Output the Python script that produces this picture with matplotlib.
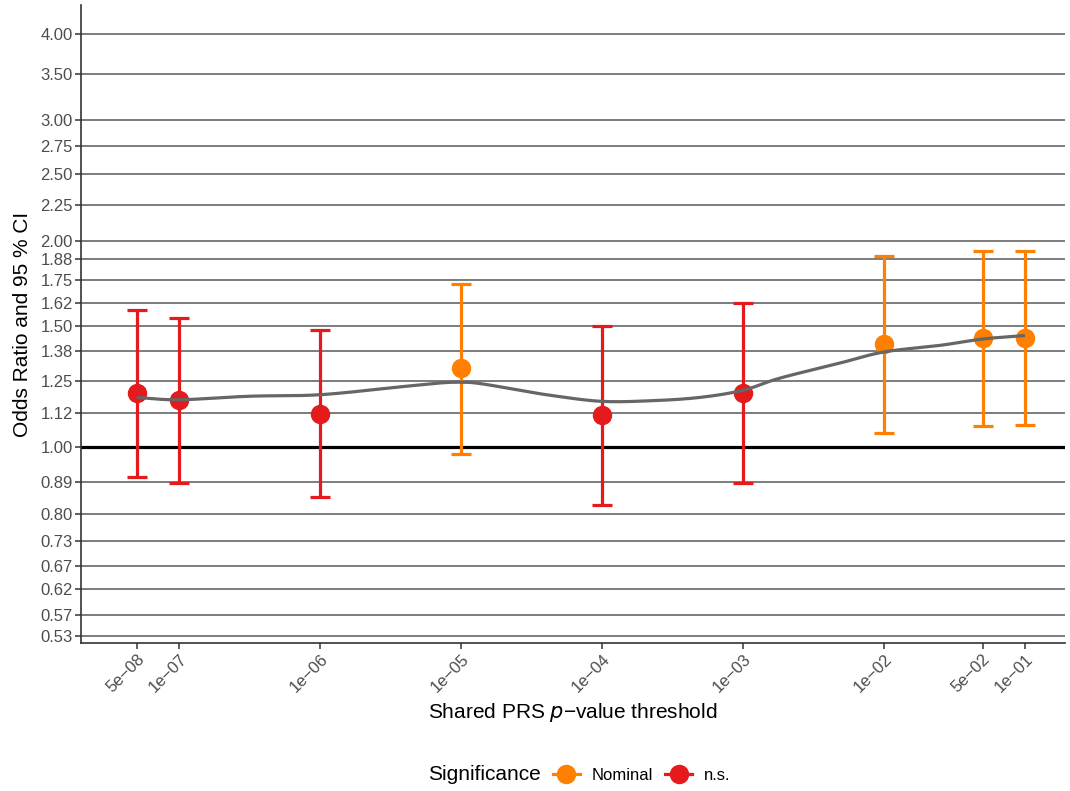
import numpy as np
import matplotlib.pyplot as plt
from matplotlib.lines import Line2D
from matplotlib.ticker import FixedLocator, NullLocator

plt.rcParams['font.family'] = ['Liberation Sans', 'DejaVu Sans']

# PRS p-value thresholds and their odds ratios with 95% CI
thresholds = [5e-08, 1e-07, 1e-06, 1e-05, 1e-04, 1e-03, 1e-02, 5e-02, 1e-01]
tick_labels = ["5e\u221208", "1e\u221207", "1e\u221206", "1e\u221205", "1e\u221204",
               "1e\u221203", "1e\u221202", "5e\u221202", "1e\u221201"]
odds_ratio = [1.198, 1.170, 1.119, 1.303, 1.113, 1.198, 1.415, 1.444, 1.440]
ci_lower = [0.905, 0.886, 0.845, 0.977, 0.823, 0.886, 1.050, 1.073, 1.076]
ci_upper = [1.582, 1.542, 1.480, 1.726, 1.500, 1.620, 1.902, 1.930, 1.928]
significance = ["n.s.", "n.s.", "n.s.", "Nominal", "n.s.", "n.s.", "Nominal", "Nominal", "Nominal"]

# smoothed trend through the estimates (log10 threshold, OR)
smooth_log10p = [-7.30, -7.0, -6.5, -6.0, -5.43, -5.15, -5.0, -4.87, -4.58, -4.37,
                 -4.01, -3.66, -3.31, -3.0, -2.74, -2.31, -2.0, -1.60, -1.30, -1.0]
smooth_or = [1.181, 1.172, 1.186, 1.192, 1.224, 1.240, 1.243, 1.238, 1.210, 1.190,
             1.166, 1.168, 1.181, 1.210, 1.260, 1.326, 1.376, 1.407, 1.437, 1.454]

y_ticks = [0.53, 0.57, 0.62, 0.67, 0.73, 0.80, 0.89, 1.00, 1.12, 1.25, 1.38, 1.50,
           1.62, 1.75, 1.88, 2.00, 2.25, 2.50, 2.75, 3.00, 3.50, 4.00]

colors = {"Nominal": "#FF7F00", "n.s.": "#E41A1C"}


def catmull_rom(xs, ys, n=20):
    # render a smooth path through the given knots
    xs = np.asarray(xs, float)
    ys = np.asarray(ys, float)
    px = np.concatenate([[2 * xs[0] - xs[1]], xs, [2 * xs[-1] - xs[-2]]])
    py = np.concatenate([[2 * ys[0] - ys[1]], ys, [2 * ys[-1] - ys[-2]]])
    outx, outy = [], []
    t = np.linspace(0, 1, n, endpoint=False)
    for i in range(1, len(px) - 2):
        for p, out in ((px, outx), (py, outy)):
            p0, p1, p2, p3 = p[i - 1], p[i], p[i + 1], p[i + 2]
            out.extend(0.5 * ((2 * p1) + (-p0 + p2) * t
                              + (2 * p0 - 5 * p1 + 4 * p2 - p3) * t ** 2
                              + (-p0 + 3 * p1 - 3 * p2 + p3) * t ** 3))
    outx.append(xs[-1])
    outy.append(ys[-1])
    return np.array(outx), np.array(outy)


fig = plt.figure(figsize=(10.70, 7.91), dpi=100)
ax = fig.add_axes([81 / 1070, 1 - 643 / 791, (1065 - 81) / 1070, (643 - 5) / 791])

ax.set_xscale('log')
ax.set_yscale('log')

# horizontal guides
for t in y_ticks:
    if t == 1.00:
        ax.axhline(t, color='black', lw=2.3, zorder=1)
    else:
        ax.axhline(t, color='#666666', lw=1.2, zorder=1)

x = np.array(thresholds)
orr = np.array(odds_ratio)
lo = np.array(ci_lower)
hi = np.array(ci_upper)
for i in range(len(x)):
    c = colors[significance[i]]
    ax.errorbar(x[i], orr[i], yerr=[[orr[i] - lo[i]], [hi[i] - orr[i]]],
                fmt='o', color=c, ms=13, elinewidth=2.3, capsize=7.5,
                capthick=2.3, zorder=3)

sx, sy = catmull_rom(smooth_log10p, np.log(smooth_or))
ax.plot(10 ** sx, np.exp(sy), color='#666666', lw=2.3, zorder=4,
        solid_capstyle='butt')

ax.set_xlim(10 ** -7.695, 10 ** -0.716)
ax.set_ylim(0.518, 4.41)

ax.xaxis.set_major_locator(FixedLocator(thresholds))
ax.xaxis.set_minor_locator(NullLocator())
ax.set_xticklabels(tick_labels, rotation=45, ha='right', rotation_mode='anchor')
ax.yaxis.set_major_locator(FixedLocator(y_ticks))
ax.yaxis.set_minor_locator(NullLocator())
ax.set_yticklabels(["%.2f" % t for t in y_ticks])

ax.tick_params(axis='both', colors='#333333', length=4, width=1.1,
               labelsize=12, labelcolor='#4D4D4D', pad=2)
for s in ['top', 'right']:
    ax.spines[s].set_visible(False)
for s in ['left', 'bottom']:
    ax.spines[s].set_color('#333333')
    ax.spines[s].set_linewidth(1.2)

ax.set_ylabel("Odds Ratio and 95 % CI", fontsize=15, labelpad=6)
ax.set_xlabel("Shared PRS $p$\u2212value threshold", fontsize=15, labelpad=4)

# legend along the bottom
fig.text(428 / 1070, 1 - 775 / 791, "Significance", fontsize=15, va='center', ha='left')
handles = [Line2D([0], [0], color=colors[k], lw=2.3, marker='o', ms=13)
           for k in ["Nominal", "n.s."]]
fig.legend(handles, ["Nominal", "n.s."], loc='center left', ncol=2,
           bbox_to_anchor=(538 / 1070, 1 - 775 / 791), frameon=False,
           fontsize=12, handlelength=1.6, handletextpad=0.7, columnspacing=0.75)

fig.savefig("out.png", dpi=100)
